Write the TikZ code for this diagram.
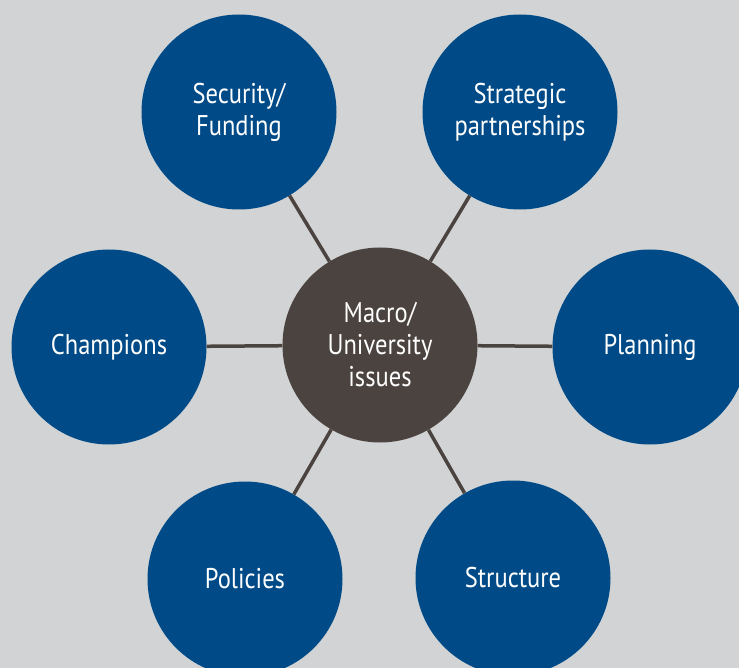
\documentclass[tikz,border=0pt]{standalone}
\usepackage{fontspec}
\setmainfont{PT Sans}[FakeStretch=0.86]
\definecolor{bg}{HTML}{D1D3D4}
\definecolor{hub}{HTML}{4B4340}
\definecolor{spoke}{HTML}{004B87}
\begin{document}
\begin{tikzpicture}[x=1pt,y=-1pt,
  bubble/.style={circle,minimum size=195pt,inner sep=0pt,fill=spoke,text=white,
    font=\fontsize{28.5}{32}\selectfont,align=center},
  hubbubble/.style={bubble,fill=hub},
  link/.style={draw=hub,line width=3.5pt}]
\fill[bg] (0,0) rectangle (739,668);
\useasboundingbox (0,0) rectangle (739,668);
\node[hubbubble] (c) at (380,345) {Macro/\\University\\issues};
\node[bubble] (sf) at (239,112) {Security/\\Funding};
\node[bubble] (sp) at (520,112) {Strategic\\partnerships};
\node[bubble] (ch) at (109,347) {Champions};
\node[bubble] (pl) at (650,347) {Planning};
\node[bubble] (po) at (245,579) {Policies};
\node[bubble] (st) at (513,578) {Structure};
\foreach \n in {sf,sp,ch,pl,po,st} \draw[link] (c) -- (\n);
\end{tikzpicture}
\end{document}
